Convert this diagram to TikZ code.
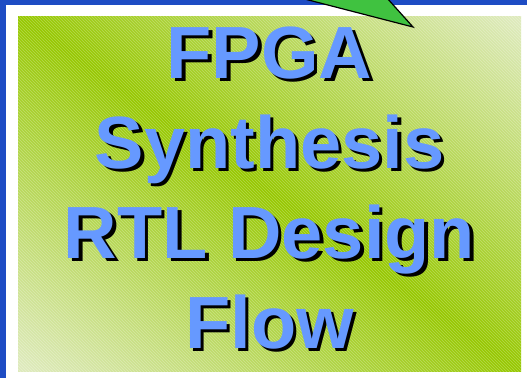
\documentclass[tikz,border=0pt]{standalone}
\usepackage{fontspec}
\newfontfamily\titlefont{Liberation Sans}
\usetikzlibrary{patterns}

\definecolor{framblue}{RGB}{30,76,196}
\definecolor{leafgreen}{RGB}{150,200,0}
\definecolor{palegreen}{RGB}{222,234,188}
\definecolor{textblue}{RGB}{102,153,255}
\definecolor{flaggreen}{RGB}{64,194,64}

% light corners (top right, bottom left), dark along the main diagonal
\pgfdeclareverticalshading{panelshade}{100bp}{%
  color(0bp)=(palegreen); color(16bp)=(palegreen);
  color(50bp)=(leafgreen);
  color(84bp)=(palegreen); color(100bp)=(palegreen)}

\tikzset{
  titleline/.style={font=\fontsize{74pt}{74pt}\selectfont\titlefont\bfseries,
    text=textblue, inner sep=0pt, anchor=base},
  titleshadow/.style={titleline, text=black},
}

\begin{document}
\begin{tikzpicture}[x=1pt,y=-1pt]
  \useasboundingbox (0,0) rectangle (527,378);
  \clip (0,0) rectangle (527,378);

  % frame: blue edge and white page
  \fill[framblue] (0,0) rectangle (527,378);
  \fill[white] (6,5) rectangle (527,378);

  % shaded panel
  \shade[shading=panelshade, shading angle=-35.2] (18,16) rectangle (521,371);
  \fill[pattern=north west lines, pattern color=white, opacity=0.28]
    (18,16) rectangle (521,371);

  % pointer wedge coming in from the top
  \draw[fill=flaggreen, draw=black, line width=1.2pt, line join=miter]
    (262,-12) -- (413,27) -- (378,-12) -- cycle;

  % title, shadow first
  \node[titleshadow] (s1) at (273,81.5) {FPGA};
  \node[titleline]   (t1) at (269.5,78) {FPGA};
  \node[titleshadow] (s2) at (273,171.5) {Synthesis};
  \node[titleline]   (t2) at (269.5,168) {Synthesis};
  \node[titleshadow] (s3) at (273,261.5) {RTL Design};
  \node[titleline]   (t3) at (269.5,258) {RTL Design};
  \node[titleshadow] (s4) at (273,351.5) {Flow};
  \node[titleline]   (t4) at (269.5,348) {Flow};
\end{tikzpicture}
\end{document}
